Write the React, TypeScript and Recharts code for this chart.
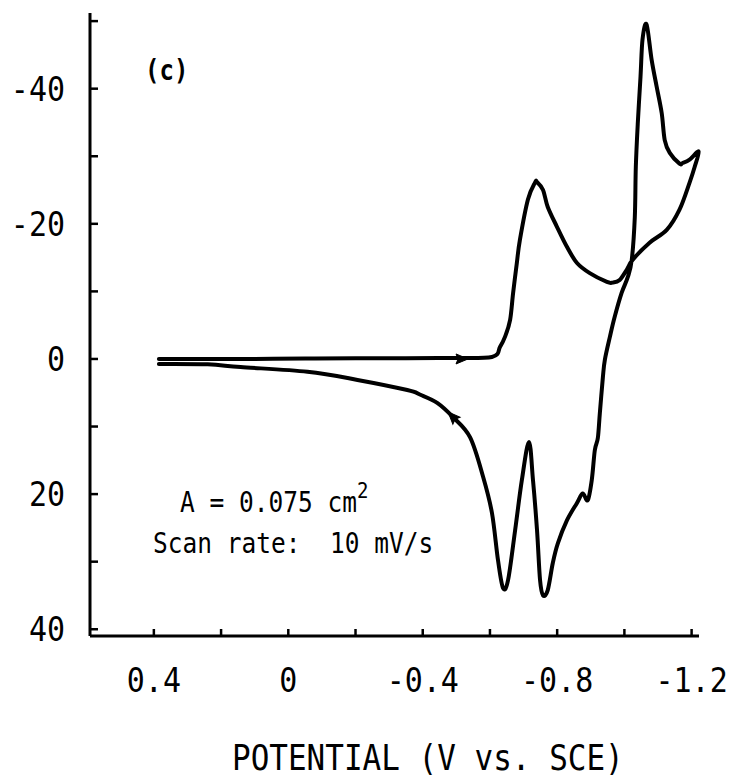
import React from 'react';
import { LineChart, Line, XAxis, YAxis, Scatter } from 'recharts';

// Forward (cathodic) sweep, potential in V vs. SCE, current in µA
const FORWARD_V = [0.385, 0.25, 0.1, -0.05, -0.2, -0.35, -0.48, -0.606, -0.63, -0.645, -0.66, -0.669, -0.68, -0.689, -0.713, -0.734, -0.74, -0.758, -0.772, -0.799, -0.829, -0.859, -0.897, -0.948, -0.965, -0.986, -1.007, -1.025, -1.075, -1.126, -1.164, -1.194, -1.209, -1.221];
const FORWARD_I = [0, 0, 0, -0.05, -0.1, -0.1, -0.15, -0.3, -1.8, -3.3, -5.8, -9.8, -14.2, -17.6, -23.6, -26.1, -26.2, -25.0, -22.5, -19.6, -16.6, -14.2, -12.7, -11.4, -11.3, -11.7, -13.2, -14.7, -17.2, -19.1, -22.1, -26.1, -28.4, -30.7];

// Reverse (anodic) sweep
const REVERSE_V = [-1.194, -1.173, -1.164, -1.135, -1.12, -1.111, -1.096, -1.081, -1.066, -1.054, -1.048, -1.04, -1.034, -1.031, -1.022, -1.01, -0.992, -0.971, -0.957, -0.942, -0.936, -0.927, -0.921, -0.912, -0.903, -0.891, -0.876, -0.859, -0.829, -0.802, -0.787, -0.772, -0.758, -0.749, -0.74, -0.728, -0.716, -0.695, -0.675, -0.654, -0.639, -0.624, -0.606, -0.58, -0.541, -0.49, -0.443, -0.393, -0.354, -0.206, -0.057, 0.142, 0.24, 0.385];
const REVERSE_I = [-29.5, -29.0, -28.9, -30.5, -32.4, -36.4, -40.3, -44.3, -49.5, -47.3, -41.8, -35.0, -28.4, -21.0, -14.7, -12.1, -9.8, -6.2, -3.3, 0.1, 2.7, 8.0, 11.7, 13.5, 17.9, 20.9, 19.9, 21.3, 23.9, 27.3, 30.2, 34.2, 35.0, 32.7, 25.3, 17.9, 12.3, 17.9, 25.3, 32.7, 33.9, 29.8, 22.8, 17.5, 11.6, 8.6, 6.5, 5.3, 4.6, 3.1, 1.9, 1.2, 0.8, 0.75];

// Sweep direction arrows
const ARROW_V = [-0.514, -0.49];
const ARROW_I = [0, 8.6];
const ARROW_ANGLE = [0, -134];

const X_TICKS = [0.4, 0.2, 0, -0.2, -0.4, -0.6, -0.8, -1.0, -1.2];
const X_LABELED = [0.4, 0, -0.4, -0.8, -1.2];
const Y_TICKS = [-50, -40, -30, -20, -10, 0, 10, 20, 30, 40];
const Y_LABELED = [-40, -20, 0, 20, 40];

const curve = [
  ...FORWARD_V.map((v, k) => ({ v, i: FORWARD_I[k] })),
  ...REVERSE_V.map((v, k) => ({ v, i: REVERSE_I[k] })),
];
const arrows = ARROW_V.map((v, k) => ({ v, i: ARROW_I[k], angle: ARROW_ANGLE[k] }));

const FONT = '"DejaVu Sans Mono", monospace';
const STRETCH = 1.15;

// smooth path through the points in order (the loop is not a function of x)
const smoothCurve = (context: any) => {
  let pts: number[][] = [];
  return {
    areaStart() {},
    areaEnd() {},
    lineStart() {
      pts = [];
    },
    point(x: number, y: number) {
      pts.push([+x, +y]);
    },
    lineEnd() {
      if (!pts.length) return;
      context.moveTo(pts[0][0], pts[0][1]);
      for (let k = 0; k < pts.length - 1; k++) {
        const p0 = pts[k - 1] || pts[k];
        const p1 = pts[k];
        const p2 = pts[k + 1];
        const p3 = pts[k + 2] || p2;
        context.bezierCurveTo(
          p1[0] + (p2[0] - p0[0]) / 6,
          p1[1] + (p2[1] - p0[1]) / 6,
          p2[0] - (p3[0] - p1[0]) / 6,
          p2[1] - (p3[1] - p1[1]) / 6,
          p2[0],
          p2[1]
        );
      }
    },
  };
};

const fmtX = (v: number) => (v === 0 ? '0' : v.toFixed(1));

const Stretched = ({ x, y, size, anchor, children, bold }: any) => (
  <text
    transform={`translate(${x},${y}) scale(1,${STRETCH})`}
    textAnchor={anchor || 'start'}
    fontFamily={FONT}
    fontSize={size}
    fontWeight={bold ? 'bold' : 'normal'}
    fill="#000"
    style={{ whiteSpace: 'pre' }}
  >
    {children}
  </text>
);

const XTick = (props: any) => {
  const { x, y, payload } = props;
  const show = X_LABELED.some((t) => Math.abs(t - payload.value) < 1e-6);
  return (
    <g>
      <line x1={x} x2={x} y1={y} y2={y - 7} stroke="#000" strokeWidth={2.5} />
      {show && (
        <Stretched x={x} y={y + 56} size={30} anchor="middle">
          {fmtX(payload.value)}
        </Stretched>
      )}
    </g>
  );
};

const YTick = (props: any) => {
  const { x, y, payload } = props;
  const show = Y_LABELED.includes(payload.value);
  return (
    <g>
      <line x1={x} x2={x + 8} y1={y} y2={y} stroke="#000" strokeWidth={2.5} />
      {show && (
        <Stretched x={x - 25} y={y + 12} size={30} anchor="end">
          {String(payload.value)}
        </Stretched>
      )}
    </g>
  );
};

const Arrow = (props: any) => {
  const { cx, cy, payload } = props;
  if (cx == null || cy == null) return null;
  return (
    <path
      d="M7,0 L-5,-5 L-3,0 L-5,5 Z"
      fill="#000"
      stroke="#000"
      strokeWidth={1}
      transform={`translate(${cx},${cy}) rotate(${payload.angle})`}
    />
  );
};

export default function App() {
  return (
    <div style={{ position: 'fixed', left: 0, top: 0, width: 739, height: 783, background: '#fff' }}>
      <LineChart width={739} height={783} data={curve} margin={{ top: 13, right: 40, bottom: 87, left: 10 }}>
        <XAxis
          type="number"
          dataKey="v"
          domain={[-1.222, 0.59]}
          reversed
          ticks={X_TICKS}
          interval={0}
          tick={<XTick />}
          tickSize={0}
          tickMargin={0}
          tickLine={false}
          height={60}
          axisLine={{ stroke: '#000', strokeWidth: 3 }}
        />
        <YAxis
          type="number"
          dataKey="i"
          domain={[-51.2, 41]}
          reversed
          ticks={Y_TICKS}
          interval={0}
          tick={<YTick />}
          tickSize={0}
          tickMargin={0}
          tickLine={false}
          width={80}
          axisLine={{ stroke: '#000', strokeWidth: 3 }}
        />
        <Line
          type={smoothCurve as any}
          dataKey="i"
          stroke="#000"
          strokeWidth={4}
          strokeLinejoin="round"
          strokeLinecap="round"
          dot={false}
          activeDot={false}
          isAnimationActive={false}
        />
        <Scatter data={arrows} dataKey="i" shape={<Arrow />} isAnimationActive={false} />
      </LineChart>
      <svg
        width={739}
        height={783}
        style={{ position: 'absolute', left: 0, top: 0, pointerEvents: 'none' }}
      >
        <Stretched x={145} y={80} size={24} bold>
          (c)
        </Stretched>
        <Stretched x={180} y={512} size={24.5}>
          A = 0.075 cm<tspan dy={-12} fontSize={19}>2</tspan>
        </Stretched>
        <Stretched x={153} y={553} size={24.5}>
          {'Scan rate:  10 mV/s'}
        </Stretched>
        <Stretched x={232} y={770} size={31}>
          POTENTIAL (V vs. SCE)
        </Stretched>
      </svg>
    </div>
  );
}
